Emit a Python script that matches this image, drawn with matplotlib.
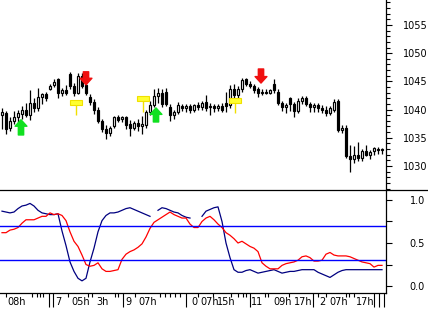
import matplotlib
matplotlib.use('Agg')
import matplotlib.pyplot as plt
import matplotlib.transforms as mtransforms
from matplotlib.lines import Line2D
from matplotlib.patches import Rectangle
import numpy as np

# ---------------- data ----------------
opens = [1039.0, 1039.4, 1036.8, 1038.0, 1038.6, 1039.3, 1040.0, 1039.0, 1041.2, 1040.3,
         1042.2, 1042.8, 1043.6, 1044.4, 1045.4, 1043.0, 1043.4, 1046.3, 1044.2, 1043.0,
         1046.0, 1044.4, 1042.2, 1041.4, 1040.0, 1038.0, 1036.6, 1035.8, 1037.0, 1038.6,
         1038.3, 1038.6, 1037.4, 1036.8, 1037.6, 1037.0, 1037.2, 1039.6, 1040.8, 1042.4,
         1043.0, 1043.2, 1040.4, 1039.0, 1039.6, 1040.6, 1040.2, 1040.6, 1040.0, 1040.8,
         1040.4, 1041.4, 1040.4, 1040.6, 1040.2, 1040.6, 1041.2, 1040.8, 1043.6, 1042.6,
         1043.6, 1045.4, 1044.6, 1044.2, 1043.6, 1043.0, 1043.2, 1043.0, 1044.6, 1043.2,
         1041.2, 1040.4, 1042.0, 1041.0, 1039.8, 1041.6, 1042.0, 1041.0, 1040.4, 1040.8,
         1040.2, 1040.0, 1039.4, 1040.0, 1041.6, 1036.4, 1036.8, 1031.8, 1031.2, 1032.0,
         1031.4, 1032.6, 1032.0, 1032.6, 1033.0, 1032.8]
highs = [1040.2, 1039.8, 1038.6, 1039.7, 1040.0, 1040.6, 1041.2, 1043.4, 1042.0, 1043.8,
         1043.0, 1043.2, 1044.6, 1045.4, 1045.6, 1043.8, 1044.3, 1046.6, 1044.8, 1046.4,
         1046.4, 1045.0, 1042.8, 1041.8, 1040.4, 1038.4, 1037.2, 1037.0, 1038.9, 1039.0,
         1038.9, 1038.8, 1038.2, 1038.0, 1038.4, 1038.8, 1040.0, 1041.6, 1043.6, 1043.8,
         1043.6, 1043.8, 1041.0, 1040.0, 1041.4, 1041.0, 1041.0, 1041.0, 1041.0, 1041.4,
         1041.6, 1042.6, 1041.2, 1041.0, 1041.0, 1041.2, 1043.2, 1044.4, 1044.6, 1044.2,
         1045.6, 1045.6, 1045.0, 1044.6, 1044.0, 1043.6, 1043.6, 1043.6, 1045.4, 1043.6,
         1041.6, 1041.2, 1042.2, 1041.4, 1042.0, 1042.4, 1042.4, 1041.4, 1041.2, 1041.2,
         1040.8, 1040.6, 1040.6, 1041.8, 1041.8, 1037.2, 1037.2, 1033.8, 1033.6, 1034.2,
         1033.0, 1033.8, 1032.8, 1033.4, 1033.4, 1033.2]
lows = [1036.5, 1035.6, 1036.2, 1037.4, 1037.6, 1038.4, 1038.6, 1038.2, 1039.6, 1039.8,
        1041.0, 1041.6, 1043.4, 1044.0, 1042.0, 1042.4, 1042.6, 1043.6, 1042.4, 1042.8,
        1043.8, 1042.6, 1040.8, 1039.2, 1037.6, 1036.0, 1034.8, 1035.4, 1036.8, 1037.8,
        1037.8, 1036.6, 1035.4, 1036.4, 1036.2, 1035.6, 1036.8, 1039.0, 1040.4, 1041.2,
        1040.4, 1040.6, 1038.0, 1038.4, 1039.2, 1039.8, 1039.6, 1039.4, 1039.6, 1040.0,
        1040.0, 1039.8, 1039.0, 1039.6, 1039.8, 1039.6, 1039.6, 1040.2, 1041.8, 1042.0,
        1043.2, 1044.2, 1043.8, 1043.0, 1042.2, 1042.6, 1042.8, 1042.8, 1043.0, 1040.8,
        1039.8, 1039.4, 1039.8, 1038.6, 1039.4, 1041.0, 1040.6, 1039.6, 1039.6, 1039.6,
        1039.4, 1038.8, 1039.0, 1039.6, 1036.0, 1035.8, 1031.4, 1029.0, 1030.6, 1030.8,
        1030.8, 1031.8, 1031.2, 1032.0, 1032.2, 1032.2]
closes = [1039.5, 1036.6, 1038.0, 1038.6, 1039.4, 1040.0, 1039.0, 1041.2, 1040.2, 1042.2,
          1042.8, 1042.0, 1044.2, 1044.9, 1042.9, 1043.4, 1043.0, 1044.2, 1043.0, 1046.0,
          1044.2, 1043.0, 1041.4, 1040.0, 1038.0, 1036.6, 1035.8, 1036.8, 1038.6, 1038.2,
          1038.7, 1037.2, 1036.8, 1037.6, 1037.0, 1037.4, 1039.6, 1040.8, 1042.4, 1043.0,
          1041.0, 1041.0, 1039.0, 1039.6, 1040.8, 1040.2, 1040.6, 1040.0, 1040.8, 1040.4,
          1041.2, 1040.2, 1040.6, 1040.2, 1040.6, 1040.0, 1040.6, 1043.6, 1042.6, 1043.6,
          1045.2, 1044.6, 1044.2, 1043.4, 1043.0, 1043.2, 1043.0, 1043.4, 1043.4, 1041.2,
          1040.4, 1040.8, 1041.0, 1039.8, 1041.6, 1042.0, 1041.0, 1040.4, 1040.8, 1040.2,
          1040.0, 1039.4, 1040.2, 1041.4, 1036.4, 1036.8, 1031.8, 1031.2, 1032.0, 1031.4,
          1032.6, 1032.0, 1032.4, 1033.2, 1032.8, 1032.8]

stoch_k = [0.87, 0.86, 0.85, 0.86, 0.90, 0.93, 0.94, 0.96, 0.93, 0.88,
           0.85, 0.84, 0.83, 0.83, 0.84, 0.64, 0.47, 0.28, 0.17, 0.09,
           0.06, 0.09, 0.28, 0.44, 0.63, 0.76, 0.82, 0.85, 0.85, 0.86,
           0.88, 0.90, 0.91, 0.89, 0.87, 0.85, 0.83, 0.81, np.nan, 0.88,
           0.91, 0.90, 0.88, 0.86, 0.85, 0.82, 0.80, 0.79, np.nan, np.nan,
           0.81, 0.87, 0.89, 0.91, 0.92, 0.75, 0.50, 0.33, 0.19, 0.16,
           0.16, 0.18, 0.19, 0.17, 0.15, 0.16, 0.17, 0.18, 0.19, 0.17,
           0.15, 0.16, 0.17, 0.17, 0.18, 0.19, 0.19, 0.19, 0.19, 0.16,
           0.14, 0.12, 0.10, 0.13, 0.16, 0.18, 0.19, 0.19, 0.19, 0.19,
           0.19, 0.19, 0.19, 0.19, 0.19, 0.19]
stoch_d = [0.62, 0.62, 0.65, 0.66, 0.68, 0.73, 0.77, 0.77, 0.77, 0.79,
           0.81, 0.81, 0.85, 0.83, 0.84, 0.82, 0.76, 0.63, 0.52, 0.46,
           0.36, 0.25, 0.23, 0.24, 0.27, 0.20, 0.17, 0.17, 0.18, 0.19,
           0.31, 0.37, 0.40, 0.42, 0.45, 0.49, 0.57, 0.67, 0.74, 0.77,
           0.80, 0.83, 0.86, 0.83, 0.81, 0.79, 0.79, 0.72, 0.68, 0.68,
           0.75, 0.79, 0.81, 0.77, 0.72, 0.68, 0.62, 0.59, 0.55, 0.50,
           0.52, 0.49, 0.46, 0.44, 0.40, 0.27, 0.23, 0.20, 0.20, 0.20,
           0.24, 0.26, 0.27, 0.28, 0.30, 0.34, 0.35, 0.33, 0.29, 0.29,
           0.30, 0.37, 0.39, 0.36, 0.35, 0.35, 0.35, 0.34, 0.32, 0.30,
           0.28, 0.27, 0.26, 0.22, 0.24, 0.24]
stoch_levels = [0.7, 0.3]

buy_idx = [4.75, 38.5]
buy_tip = [1038.2, 1040.3]
buy_tail = [1035.5, 1037.8]
sell_idx = [21.0, 64.75]
sell_tip = [1044.4, 1044.7]
sell_tail = [1046.7, 1047.2]
flag_idx = [18.5, 35.25, 58.25]
flag_price = [1041.3, 1042.0, 1041.6]
flag_stem_end = [1039.0, 1039.6, 1039.4]

price_major = [1030, 1035, 1040, 1045, 1050, 1055]
price_minor = list(range(1026, 1060))
stoch_major = [0.0, 0.5, 1.0]
stoch_minor = [0.25, 0.75]

x_major_ticks = [11.75, 12.75, 30.25, 46.0, 62.0, 77.75, 93.0, 94.25, 95.5]
x_minor_ticks = [1.0, 7.5, 8.75, 9.5, 10.25, 16.5, 21.5, 22.5, 28.25, 29.0, 33.25,
                 39.5, 40.75, 42.0, 43.25, 44.5, 49.0, 52.75, 57.25, 59.0, 60.25,
                 61.0, 65.75, 66.5, 71.75, 79.0, 81.0, 86.0, 86.75, 88.0]
x_labels = ["08h", "7", "05h", "3h", "9", "07h", "0", "07h", "15h", "11",
            "09h", "17h", "2", "07h", "17h"]
x_label_pos = [1.25, 13.25, 17.25, 23.5, 30.75, 34.0, 47.25, 49.5, 53.75, 62.25,
               67.75, 72.9, 79.25, 81.75, 88.5]

# ---------------- figure ----------------
FONT = ['Liberation Sans Narrow', 'DejaVu Sans']
W, H = 428, 309
fig = plt.figure(figsize=(W / 100, H / 100), dpi=100)
fig.patch.set_facecolor('white')
ax1 = fig.add_axes([0, 1 - 190 / H, 386 / W, 190 / H])
ax2 = fig.add_axes([0, 1 - 293 / H, 386 / W, 103 / H])

idx = np.arange(len(closes))
o = np.array(opens); c = np.array(closes); hi = np.array(highs); lo = np.array(lows)

# candles
ax1.vlines(idx, lo, hi, color='black', lw=0.9, zorder=2)
up = c >= o
body_h = np.where(np.abs(c - o) < 0.15, 0.15, c - o)
ax1.bar(idx[up], body_h[up], bottom=o[up], width=0.62, color='white',
        edgecolor='black', linewidth=0.85, zorder=3)
ax1.bar(idx[~up], body_h[~up], bottom=o[~up], width=0.62, color='black',
        edgecolor='black', linewidth=0.85, zorder=3)

# signal arrows
style = 'simple,head_length=0.55,head_width=1.0,tail_width=0.45'
for xi, tip, tail in zip(buy_idx, buy_tip, buy_tail):
    ax1.annotate('', xy=(xi, tip), xytext=(xi, tail),
                 arrowprops=dict(arrowstyle=style, color='#10e020', mutation_scale=8.5,
                                 shrinkA=0, shrinkB=0), zorder=5)
for xi, tip, tail in zip(sell_idx, sell_tip, sell_tail):
    ax1.annotate('', xy=(xi, tip), xytext=(xi, tail),
                 arrowprops=dict(arrowstyle=style, color='#f01010', mutation_scale=8.5,
                                 shrinkA=0, shrinkB=0), zorder=5)

# yellow flags
for xi, p, s in zip(flag_idx, flag_price, flag_stem_end):
    ax1.add_patch(Rectangle((xi - 1.5, p - 0.45), 3.0, 0.9, facecolor='#ffff30',
                            edgecolor='#f0e000', lw=0.8, zorder=4))
    ax1.vlines(xi, s, p - 0.45, color='#f0e000', lw=1.0, zorder=4)

ax1.set_xlim(-0.5, 96.0)
ax1.set_ylim(1025.74, 1059.43)

# stochastic
ax2.plot(idx, stoch_k, color='#000080', lw=0.9)
ax2.plot(idx, stoch_d, color='#ff0000', lw=0.9)
for lv in stoch_levels:
    ax2.axhline(lv, color='#0000ff', lw=1.0)
ax2.set_xlim(-0.5, 96.0)
ax2.set_ylim(-0.081, 1.116)

for ax in (ax1, ax2):
    ax.set_facecolor('white')
    for s in ('left', 'top'):
        ax.spines[s].set_visible(False)
    ax.spines['right'].set_color('black')
    ax.spines['right'].set_linewidth(0.9)
    ax.yaxis.tick_right()
ax1.spines['bottom'].set_visible(False)
ax2.spines['bottom'].set_linewidth(0.9)

ax1.set_yticks(price_major)
ax1.set_yticks(price_minor, minor=True)
ax1.set_yticklabels([str(v) for v in price_major], fontfamily=FONT, fontsize=7)
ax1.tick_params(axis='y', which='major', direction='out', length=4.5, width=0.8, pad=7.5)
ax1.tick_params(axis='y', which='minor', direction='out', length=3, width=0.8)
ax1.set_xticks([])

ax2.set_yticks(stoch_major)
ax2.set_yticks(stoch_minor, minor=True)
ax2.set_yticklabels(['%.1f' % v for v in stoch_major], fontfamily=FONT, fontsize=7)
ax2.tick_params(axis='y', which='major', direction='out', length=4.5, width=0.8, pad=12.5)
ax2.tick_params(axis='y', which='minor', direction='out', length=4.5, width=0.8)

ax2.set_xticks(x_major_ticks)
ax2.set_xticks(x_minor_ticks, minor=True)
ax2.set_xticklabels([])
ax2.tick_params(axis='x', which='major', direction='out', length=10, width=0.8)
ax2.tick_params(axis='x', which='minor', direction='out', length=3, width=0.8)

trans = mtransforms.blended_transform_factory(ax2.transData, fig.transFigure)
for lab, xp in zip(x_labels, x_label_pos):
    ax2.text(xp, 1 - 302 / H, lab, transform=trans, ha='left', va='center',
             fontsize=7, fontfamily=FONT, clip_on=False)

# separator line between panels spanning full width
fig.add_artist(Line2D([0, 1], [1 - 190 / H, 1 - 190 / H], color='black', lw=0.9))

fig.savefig('out.png', dpi=100, facecolor='white')
